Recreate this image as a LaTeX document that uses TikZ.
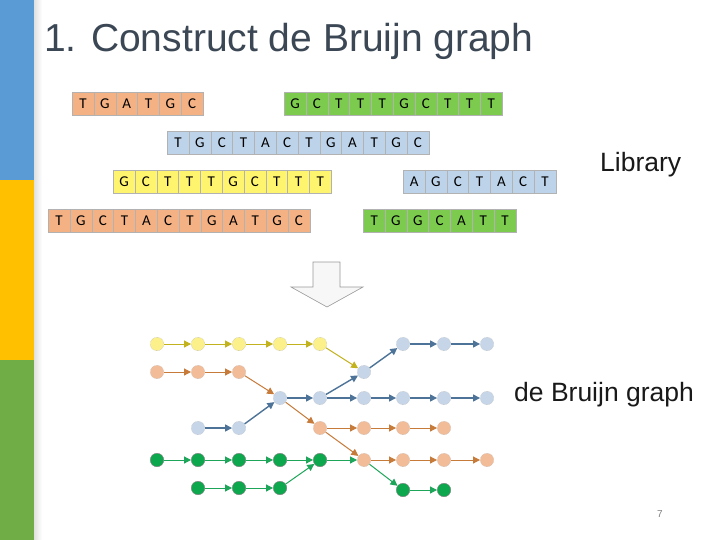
\documentclass[tikz,border=0pt]{standalone}
\usepackage{fontspec}
\setmainfont{Liberation Sans}
\newfontfamily\carlfont{Carlito}
\usetikzlibrary{arrows.meta}
\definecolor{bblue}{HTML}{5B9BD5}
\definecolor{byel}{HTML}{FFC000}
\definecolor{bgreen}{HTML}{70AD47}
\definecolor{cor}{HTML}{F4B183}
\definecolor{cgr}{HTML}{7DCB4E}
\definecolor{cbl}{HTML}{BDD3EA}
\definecolor{cye}{HTML}{FFF46E}
\definecolor{nye}{HTML}{FBF08A}
\definecolor{nor}{HTML}{F2BC98}
\definecolor{nbl}{HTML}{C6D6E8}
\definecolor{ngr}{HTML}{0DA84E}
\definecolor{eye}{HTML}{C2B21E}
\definecolor{eor}{HTML}{C77B3A}
\definecolor{ebl}{HTML}{4D7398}
\definecolor{egr}{HTML}{1DA65A}
\definecolor{ttl}{HTML}{3B4754}
\tikzset{
 cell/.style={minimum width=21.8pt,minimum height=23pt,inner sep=0pt,font=\carlfont\fontsize{15}{15}\selectfont,draw=black!30,line width=0.5pt},
 gn/.style={circle,minimum size=13.5pt,inner sep=0pt},
 vy/.style={gn,fill=nye,draw=black!35,densely dotted},
 vo/.style={gn,fill=nor,draw=black!30,densely dotted},
 vb/.style={gn,fill=nbl,draw=black!30,densely dotted},
 vg/.style={gn,fill=ngr,draw=black!50,line width=0.4pt},
 ay/.style={draw=eye,line width=1pt,-{Triangle[length=7pt,width=7pt]}},
 ao/.style={draw=eor,line width=1pt,-{Triangle[length=7pt,width=7pt]}},
 ab/.style={draw=ebl,line width=1.4pt,-{Triangle[length=7pt,width=7pt]}},
 ag/.style={draw=egr,line width=1pt,-{Triangle[length=7pt,width=7pt]}},
}
\newcommand{\readrow}[5]{% name, x, y, color, letters
 \foreach \L [count=\i from 0] in {#5}{
  \node[cell,fill=#4,anchor=west] (#1\i) at ({#2+21.8*\i},#3) {\L};
 }}
\begin{document}
\begin{tikzpicture}[x=1pt,y=-1pt]
\useasboundingbox (0,0) rectangle (720,540);
\fill[white] (0,0) rectangle (720,540);
\fill[bblue] (0,0) rectangle (34,180);
\fill[byel] (0,180) rectangle (34,360);
\fill[bgreen] (0,360) rectangle (34,540);
\shade[left color=black!12,right color=white] (34,0) rectangle (42,540);
\node[anchor=base west,text=ttl,font=\fontsize{39}{39}\selectfont,inner sep=0pt] (title) at (44,52) {1. Construct de Bruijn graph};
% reads
\readrow{ra}{72}{104}{cor}{T,G,A,T,G,C}
\readrow{rb}{284}{104}{cgr}{G,C,T,T,T,G,C,T,T,T}
\readrow{rc}{167}{143}{cbl}{T,G,C,T,A,C,T,G,A,T,G,C}
\readrow{rd}{113}{182}{cye}{G,C,T,T,T,G,C,T,T,T}
\readrow{re}{403}{182}{cbl}{A,G,C,T,A,C,T}
\readrow{rf}{48}{221}{cor}{T,G,C,T,A,C,T,G,A,T,G,C}
\readrow{rg}{363}{221}{cgr}{T,G,G,C,A,T,T}
\node[anchor=west,font=\fontsize{26.5}{26.5}\selectfont,text=black!90,inner sep=0pt] (lib) at (600,165) {Library};
% big arrow
\draw[black!40,fill=black!3,line width=0.6pt] (313,262) -- (340,262) -- (340,287) -- (363,287) -- (327,307) -- (291,287) -- (313,287) -- cycle;
% graph
\foreach \i/\x in {0/157,1/198,2/239,3/280,4/320}{\node[vy] (y\i) at (\x,344) {};}
\foreach \i/\x in {0/157,1/198,2/239}{\node[vo] (o\i) at (\x,372) {};}
\node[vb] (b5) at (364,372) {};
\foreach \i/\x in {6/403,7/444,8/487}{\node[vb] (t\i) at (\x,344) {};}
\foreach \i/\x in {3/280,4/320,5/364,6/403,7/444,8/487}{\node[vb] (m\i) at (\x,398) {};}
\foreach \i/\x in {1/198,2/239}{\node[vb] (l\i) at (\x,428) {};}
\foreach \i/\x in {4/320,5/364,6/403,7/444}{\node[vo] (p\i) at (\x,428) {};}
\foreach \i/\x in {0/157,1/198,2/239,3/280,4/320}{\node[vg] (g\i) at (\x,460) {};}
\foreach \i/\x in {5/364,6/403,7/444,8/487}{\node[vo] (q\i) at (\x,460) {};}
\foreach \i/\x in {1/198,2/239,3/280}{\node[vg] (h\i) at (\x,488) {};}
\foreach \i/\x in {6/403,7/444}{\node[vg] (k\i) at (\x,490) {};}
\draw[ay] (y0)--(y1); \draw[ay] (y1)--(y2); \draw[ay] (y2)--(y3); \draw[ay] (y3)--(y4); \draw[ay] (y4)--(b5);
\draw[ab] (b5)--(t6); \draw[ab] (t6)--(t7); \draw[ab] (t7)--(t8);
\draw[ao] (o0)--(o1); \draw[ao] (o1)--(o2); \draw[ao] (o2)--(m3);
\draw[ab] (m3)--(m4); \draw[ab] (m4)--(m5); \draw[ab] (m5)--(m6); \draw[ab] (m6)--(m7); \draw[ab] (m7)--(m8); \draw[ab] (m4)--(b5);
\draw[ab] (l1)--(l2); \draw[ab] (l2)--(m3);
\draw[ao] (m3)--(p4); \draw[ao] (p4)--(p5); \draw[ao] (p5)--(p6); \draw[ao] (p6)--(p7); \draw[ao] (p4)--(q5);
\draw[ag] (g0)--(g1); \draw[ag] (g1)--(g2); \draw[ag] (g2)--(g3); \draw[ag] (g3)--(g4); \draw[ag] (g4)--(q5);
\draw[ao] (q5)--(q6); \draw[ao] (q6)--(q7); \draw[ao] (q7)--(q8);
\draw[ag] (h1)--(h2); \draw[ag] (h2)--(h3); \draw[ag] (h3)--(g4);
\draw[ag] (q5)--(k6); \draw[ag] (k6)--(k7);
\node[anchor=west,font=\fontsize{26.5}{26.5}\selectfont,text=black!90,inner sep=0pt] (dbg) at (514,395) {de Bruijn graph};
\node[font=\fontsize{10}{10}\selectfont,text=black!50] (pg) at (660,514) {7};
\end{tikzpicture}
\end{document}
